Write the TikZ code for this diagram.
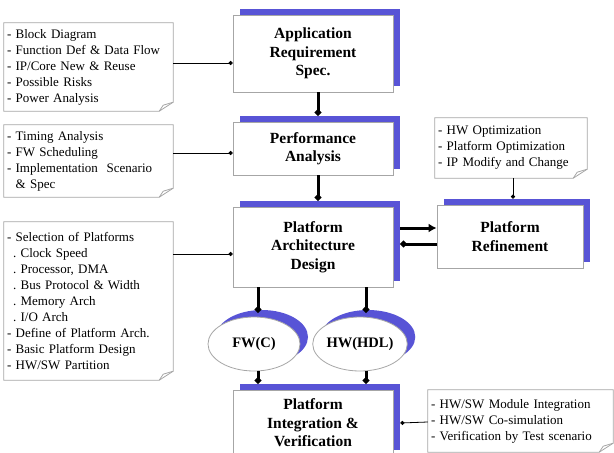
\documentclass[tikz,border=0pt]{standalone}
\usepackage{fontspec}
\setmainfont{Liberation Serif}
\usetikzlibrary{shadows,arrows.meta,shapes.geometric,calc}
\definecolor{bsh}{RGB}{88,84,214}
\newcommand\noteoutline[1]{%
  \draw[notel] (#1.north west) -- (#1.north east) -- ([yshift=9pt]#1.south east) -- ([xshift=-14pt]#1.south east) -- (#1.south west) -- cycle;
  \draw[notel] ([yshift=9pt]#1.south east) -- ([xshift=-10pt,yshift=6pt]#1.south east) -- ([xshift=-14pt]#1.south east);}
\begin{document}
\begin{tikzpicture}[x=1pt,y=-1pt,
  mainbox/.style={draw=gray!70, line width=0.8pt, fill=white, minimum width=160pt, align=center,
    font=\fontsize{15.5}{18.5}\selectfont\bfseries, inner sep=0pt,
    general shadow={fill=bsh, shadow xshift=7pt, shadow yshift=6pt}},
  ell/.style={ellipse, draw=gray!70, line width=0.8pt, fill=white, inner sep=0pt,
    font=\fontsize{14.5}{17.5}\selectfont\bfseries,
    general shadow={fill=bsh, shadow xshift=8pt, shadow yshift=7pt}},
  notetext/.style={draw=none, align=left, font=\fontsize{13}{16}\selectfont, inner xsep=3pt, inner ysep=0pt},
  notel/.style={draw=gray!70, line width=0.8pt},
  thk/.style={line width=3pt, -{Circle[length=6pt]}},
  thkarr/.style={line width=3pt, -{Latex[length=8pt,width=9pt]}},
  thn/.style={line width=0.8pt, -{Circle[length=4pt]}}
]
\useasboundingbox (0,0) rectangle (614,453);
\clip (0,0) rectangle (614,453);

% main boxes
\node[mainbox, minimum height=77pt] (app) at (313,53.5) {Application\\Requirement\\Spec.};
\node[mainbox, minimum height=53pt] (perf) at (313,148.5) {Performance\\Analysis};
\node[mainbox, minimum height=80pt] (arch) at (313,247) {Platform\\Architecture\\Design};
\node[mainbox, minimum width=146pt, minimum height=63pt] (refine) at (510,236.5) {Platform\\Refinement};
\node[mainbox, minimum height=66pt] (integ) at (313,423) {Platform\\Integration \&\\Verification};

% ellipses
\node[ell, minimum width=92pt, minimum height=54pt] (fw) at (254,344) {FW(C)};
\node[ell, minimum width=84pt, minimum height=54pt] (hw) at (360,344) {HW(HDL)};

% notes
\node[notetext, text width=163pt, minimum height=88pt] (n1) at (88.5,67) {- Block Diagram\\- Function Def \& Data Flow\\- IP/Core New \& Reuse\\- Possible Risks\\- Power Analysis};
\noteoutline{n1}
\node[notetext, text width=163pt, minimum height=72pt] (n2) at (88.5,161) {- Timing Analysis\\- FW Scheduling\\- Implementation\ \ Scenario\\\phantom{- }\& Spec};
\noteoutline{n2}
\node[notetext, text width=163pt, minimum height=158pt] (n3) at (88.5,301) {- Selection of Platforms\\\hspace{6pt}.\ Clock Speed\\\hspace{6pt}.\ Processor, DMA\\\hspace{6pt}.\ Bus Protocol \& Width\\\hspace{6pt}.\ Memory Arch\\\hspace{6pt}.\ I/O Arch\\- Define of Platform Arch.\\- Basic Platform Design\\- HW/SW Partition};
\noteoutline{n3}
\node[notetext, text width=146pt, minimum height=60pt] (n4) at (511,148) {- HW Optimization\\- Platform Optimization\\- IP Modify and Change};
\noteoutline{n4}
\node[notetext, text width=179pt, minimum height=62pt] (n5) at (520.5,421) {- HW/SW Module Integration\\- HW/SW Co-simulation\\- Verification by Test scenario};
\noteoutline{n5}

% connectors
\draw[thn] ([yshift=4pt]n1.east) -- ([yshift=-9.5pt]app.west);
\draw[thn] ([yshift=8pt]n2.east) -- ([yshift=-4.5pt]perf.west);
\draw[thn] ([yshift=47pt]n3.east) -- ([yshift=-7pt]arch.west);
\draw[thk] ([xshift=5pt]app.south) -- ([xshift=5pt,yshift=6pt]perf.north);
\draw[thk] ([xshift=5pt]perf.south) -- ([xshift=5pt,yshift=6pt]arch.north);
\draw[thkarr] ([xshift=7pt,yshift=19pt]arch.east) -- ([yshift=8.5pt]refine.west);
\draw[thk] ([yshift=-7.5pt]refine.west) -- ([xshift=7pt,yshift=3pt]arch.east);
\draw[thn] ([xshift=2pt]n4.south) -- ([xshift=3pt,yshift=6pt]refine.north);
\draw[thk] ([xshift=-55pt]arch.south) -- ([xshift=4pt,yshift=4pt]fw.north);
\draw[thk] ([xshift=53pt]arch.south) -- ([xshift=6pt,yshift=4pt]hw.north);
\draw[thk] ([xshift=4pt]fw.south) -- ([xshift=-55pt,yshift=6pt]integ.north);
\draw[thk] ([xshift=6pt]hw.south) -- ([xshift=53pt,yshift=6pt]integ.north);
\draw[thn] ([yshift=-1pt]n5.west) -- ([xshift=7pt]integ.east);
\end{tikzpicture}
\end{document}
